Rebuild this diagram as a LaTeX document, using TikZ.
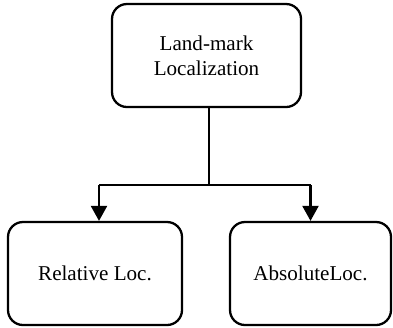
\documentclass[tikz,border=0pt]{standalone}
\usepackage{fontspec}
\setmainfont{Liberation Serif}
\usetikzlibrary{arrows.meta}

\tikzset{
    locbox/.style={draw, line width=1.3pt, rounded corners=0.3cm, minimum height=2.06cm, align=center, font=\fontsize{12}{14}\selectfont},
    link/.style={line width=1.3pt}
}

\begin{document}
\begin{tikzpicture}
    \useasboundingbox (0,0) rectangle (7.86,-6.54);
    \node [locbox, minimum width=3.78cm] (landmark) at (4.13,-1.11) {Land-mark\\Localization};
    \node [locbox, minimum width=3.48cm] (relative) at (1.90,-5.47) {Relative Loc.};
    \node [locbox, minimum width=3.22cm] (absolute) at (6.21,-5.47) {AbsoluteLoc.};
    \coordinate (split) at (4.18,-3.70);
    \coordinate (lefttop) at (1.98,-3.70);
    \coordinate (righttop) at (6.21,-3.70);
    \draw [link] (landmark.south -| split) -- (split);
    \draw [link] (lefttop) -- (righttop);
    \draw [link, -{Triangle[length=0.3cm, width=0.32cm]}] (lefttop) -- (lefttop |- relative.north);
    \draw [link, -{Triangle[length=0.3cm, width=0.32cm]}] (righttop) -- (absolute.north);
\end{tikzpicture}
\end{document}
